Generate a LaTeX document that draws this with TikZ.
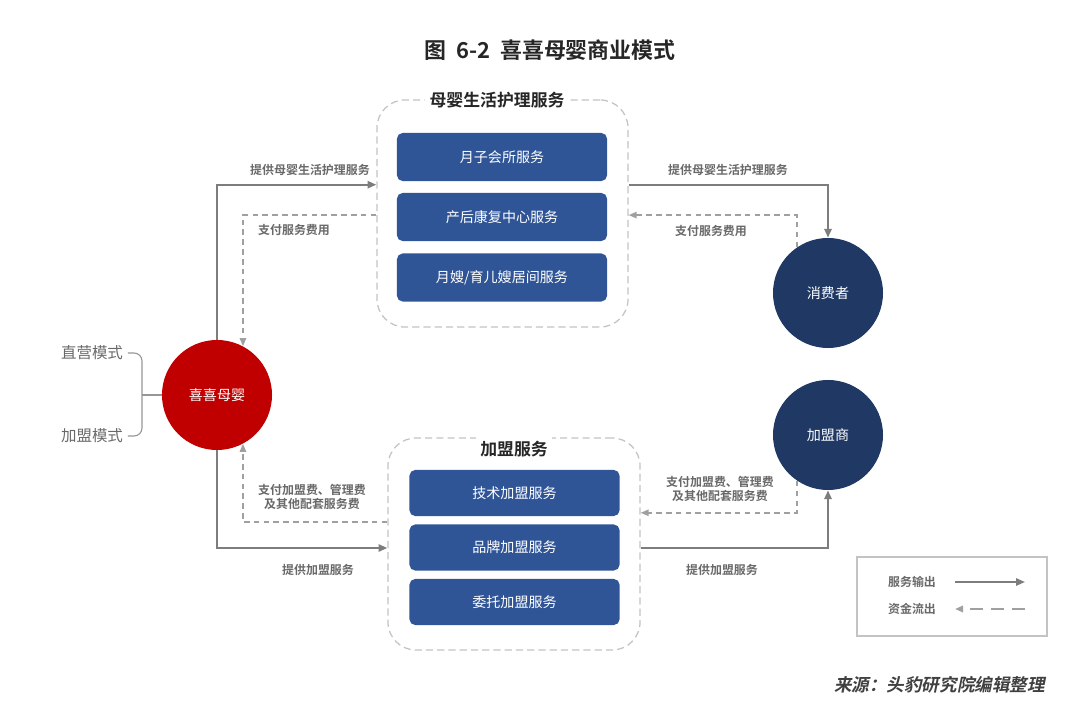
\documentclass[tikz,border=0pt]{standalone}
\usepackage{fontspec}
\setmainfont{Noto Sans CJK SC}[BoldFont={* Bold}]
\newfontfamily\srcfont{Noto Sans CJK SC Bold}[FakeSlant=0.2]
\usepackage{tikz}
\usetikzlibrary{
  arrows.meta,
  positioning
}
\definecolor{svcgray}{RGB}{125,125,125}
\definecolor{paygray}{RGB}{160,160,160}
\definecolor{textgray}{RGB}{105,105,105}
\definecolor{boxblue}{RGB}{47,85,151}
\definecolor{navy}{RGB}{31,56,100}
\definecolor{brandred}{RGB}{192,0,0}
\definecolor{framegray}{RGB}{195,195,195}

\begin{document}
\begin{tikzpicture}[
  x=0.025cm, y=-0.025cm,
  svcbox/.style={
    fill=boxblue,
    rounded corners=4pt,
    text=white,
    font=\fontsize{10}{12}\selectfont,
    minimum width=5.25cm,
    minimum height=1.2cm,
    inner sep=0pt
  },
  groupbox/.style={
    draw=framegray,
    line width=0.9pt,
    dash pattern=on 5pt off 3pt,
    rounded corners=0.7cm,
    inner sep=0pt
  },
  grouplabel/.style={
    fill=white,
    font=\bfseries\fontsize{12}{14}\selectfont,
    text=black!85,
    inner sep=3pt
  },
  party/.style={
    circle,
    fill=navy,
    text=white,
    font=\fontsize{10}{12}\selectfont,
    minimum size=2.75cm,
    inner sep=0pt
  },
  flowlabel/.style={
    font=\bfseries\fontsize{8.5}{10.5}\selectfont,
    text=textgray,
    align=center,
    inner sep=1pt
  },
  svc/.style={
    -{Triangle[length=2.2mm,width=1.8mm]},
    line width=1.5pt,
    svcgray
  },
  pay/.style={
    -{Triangle[length=2mm,width=1.6mm]},
    line width=1.1pt,
    paygray,
    dash pattern=on 4pt off 3pt
  }
]
  \useasboundingbox (0,0) rectangle (1080,721);

  % Title
  \node[font=\bfseries\fontsize{15.6}{18}\selectfont, text=black!85] (title) at (550,50) {图\ \ 6-2\ \ 喜喜母婴商业模式};

  % Care services group
  \node[groupbox, minimum width=6.275cm, minimum height=5.675cm] (care) at (502.5,213.5) {};
  \node[grouplabel] (carelabel) at (497,100) {母婴生活护理服务};
  \node[svcbox] (care1) at (502,157) {月子会所服务};
  \node[svcbox] (care2) at (502,217) {产后康复中心服务};
  \node[svcbox] (care3) at (502,277.5) {月嫂/育儿嫂居间服务};

  % Franchise services group
  \node[groupbox, minimum width=6.3cm, minimum height=5.3cm] (join) at (514,544) {};
  \node[grouplabel] (joinlabel) at (514,449) {加盟服务};
  \node[svcbox, minimum height=1.15cm] (join1) at (514.5,493) {技术加盟服务};
  \node[svcbox, minimum height=1.15cm] (join2) at (514.5,547.5) {品牌加盟服务};
  \node[svcbox, minimum height=1.15cm] (join3) at (514.5,602) {委托加盟服务};

  % Parties
  \node[party, fill=brandred] (brand) at (217,395) {喜喜母婴};
  \node[party] (consumer) at (828,293) {消费者};
  \node[party] (franchisee) at (828,435) {加盟商};

  % Business modes
  \node[font=\fontsize{11}{13}\selectfont, text=textgray] (direct) at (92,353) {直营模式};
  \node[font=\fontsize{11}{13}\selectfont, text=textgray] (franchise) at (92,436) {加盟模式};
  \draw[svcgray!80, line width=0.8pt, rounded corners=0.2cm]
    (direct.east) -- (142,353) -- (142,436) -- (franchise.east);
  \draw[svcgray!80, line width=0.8pt] (142,395) -- (brand.west);

  % Service flows
  \draw[svc] (brand.north) |- ([yshift=0.72cm]care.west);
  \draw[svc] ([yshift=0.72cm]care.east) -| (consumer.north);
  \draw[svc] (brand.south) |- ([yshift=-0.1cm]join.west);
  \draw[svc] ([yshift=-0.1cm]join.east) -| (franchisee.south);

  % Payment flows
  \draw[pay] ([yshift=-0.04cm]care.west) -| (brand.62);
  \draw[pay] (consumer.124) |- ([yshift=-0.04cm]care.east);
  \draw[pay] ([yshift=0.55cm]join.west) -| (brand.-62);
  \draw[pay] (franchisee.-124) |- ([yshift=0.78cm]join.east);

  % Flow labels
  \node[flowlabel] (svc1) at (310,170) {提供母婴生活护理服务};
  \node[flowlabel] (pay1) at (294,230) {支付服务费用};
  \node[flowlabel] (svc2) at (728,170) {提供母婴生活护理服务};
  \node[flowlabel] (pay2) at (711,231) {支付服务费用};
  \node[flowlabel] (pay3) at (312,497) {支付加盟费、管理费\\及其他配套服务费};
  \node[flowlabel] (pay4) at (720,489) {支付加盟费、管理费\\及其他配套服务费};
  \node[flowlabel] (svc3) at (318,570) {提供加盟服务};
  \node[flowlabel] (svc4) at (722,570) {提供加盟服务};

  % Legend
  \node[draw=framegray, line width=0.8pt, minimum width=4.75cm, minimum height=1.975cm] (legend) at (952,596.5) {};
  \node[flowlabel] (legsvc) at (912,582) {服务输出};
  \node[flowlabel] (legpay) at (912,609) {资金流出};
  \coordinate (legsvcA) at (955,582);
  \coordinate (legsvcB) at (1025,582);
  \coordinate (legpayA) at (1025,609);
  \coordinate (legpayB) at (955,609);
  \draw[svc, line width=1.2pt] (legsvcA) -- (legsvcB);
  \draw[pay, line width=1.4pt, dash pattern=on 9pt off 6pt] (legpayA) -- (legpayB);

  % Source
  \node[font=\srcfont\fontsize{12.5}{15}\selectfont, text=black!75, anchor=east] (source) at (1050,685) {来源：头豹研究院编辑整理};
\end{tikzpicture}
\end{document}
